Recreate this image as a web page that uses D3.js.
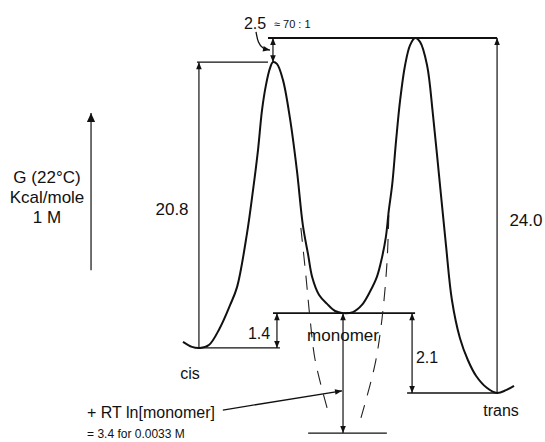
<!DOCTYPE html>
<html>
<head>
<meta charset="utf-8">
<script src="https://cdn.jsdelivr.net/npm/d3@7"></script>
<style>
  html, body { margin: 0; padding: 0; background: #fff; }
  svg { display: block; font-family: "Liberation Sans", Arial, Helvetica, sans-serif; }
  .lbl { fill: #111; }
</style>
</head>
<body>
<div id="chart"></div>
<script>
// free energy profile, cis -> monomer -> trans (schematic units: reaction coord 0..100, G 0..100)
const curveXi = [0, 2.7, 5.1, 7.8, 11.1, 14.2, 16.3, 19.3, 21.1, 22.6, 23.8, 25.0, 26.2, 27.1, 28.3, 30.1,
    32.2, 34.3, 36.1, 37.7, 38.9, 41.0, 43.4, 45.8, 48.2, 51.2, 53.9, 56.3, 58.4, 59.9, 61.1, 62.0, 63.0,
    64.2, 65.4, 66.9, 68.4, 69.9, 71.4, 73.5, 75.3, 77.4, 79.2, 81.0, 83.4, 85.8, 88.3, 91.6, 94.6, 97.3, 99.7];
const curveG = [14.4, 13.0, 12.7, 13.5, 18.3, 24.8, 29.9, 45.1, 57.2, 68.5, 79.7, 86.8, 91.5, 93.2, 92.7, 88.2,
    77.5, 62.8, 47.3, 38.9, 32.7, 27.6, 25.1, 23.1, 22.5, 22.8, 24.8, 28.5, 32.7, 38.0, 43.9, 51.5, 58.6,
    71.3, 82.5, 92.4, 98.0, 100, 98.9, 92.4, 78.3, 58.6, 41.7, 26.2, 15.5, 9.3, 4.8, 1.4, 0, 0.8, 2.0];

// lowered monomer well (dashed walls)
const dashLeftXi = [35.5, 37.0, 38.3, 39.8, 43.4];
const dashLeftG = [46.5, 33.2, 20.6, 9.3, -4.2];
const dashRightXi = [62.0, 61.4, 59.9, 57.8, 53.6];
const dashRightG = [50.1, 36.1, 20.6, 7.9, -7.0];

// energy levels
const levelNames = ['top', 'cisTS', 'monomer', 'cis', 'trans', 'monomerLow'];
const levelG = [100, 93.2, 22.5, 12.7, 0, -11.3];
const levelFrom = [25.6, 4.2, 27.1, 5.1, 67.5, 37.7];
const levelTo = [94.6, 25.6, 69.9, 29.2, 94.6, 61.4];

// dimension arrows: [xi, fromLevel, toLevel, arrows]
const dimXi = [4.8, 94.6, 28.3, 69.0, 27.1, 48.2];
const dimFrom = ['cis', 'trans', 'cis', 'trans', 'cisTS', 'monomerLow'];
const dimTo = ['cisTS', 'top', 'monomer', 'monomer', 'top', 'monomer'];
const dimBoth = [false, false, true, true, true, true];
const dimLabels = ['20.8', '24.0', '1.4', '2.1', '2.5', ''];

const W = 545, H = 442;
const x = d3.scaleLinear().domain([0, 100]).range([183, 515]);
const y = d3.scaleLinear().domain([0, 100]).range([393, 38]);
const gOf = name => levelG[levelNames.indexOf(name)];

const svg = d3.select('#chart').append('svg').attr('width', W).attr('height', H);

const defs = svg.append('defs');
defs.append('marker')
    .attr('id', 'ah')
    .attr('viewBox', '0 -5 10 10')
    .attr('refX', 10).attr('refY', 0)
    .attr('markerUnits', 'userSpaceOnUse')
    .attr('markerWidth', 8).attr('markerHeight', 7)
    .attr('orient', 'auto-start-reverse')
    .append('path').attr('d', 'M0,-4L10,0L0,4Z').attr('fill', '#111');
defs.append('marker')
    .attr('id', 'big')
    .attr('viewBox', '0 -5 10 10')
    .attr('refX', 10).attr('refY', 0)
    .attr('markerUnits', 'userSpaceOnUse')
    .attr('markerWidth', 14).attr('markerHeight', 9)
    .attr('orient', 'auto')
    .append('path').attr('d', 'M0,-4.5L10,0L0,4.5Z').attr('fill', '#111');

const line = d3.line().x(d => x(d[0])).y(d => y(d[1]));

// horizontal level lines
svg.append('g').selectAll('line')
    .data(levelNames)
    .join('line')
    .attr('x1', (d, i) => x(levelFrom[i]))
    .attr('x2', (d, i) => x(levelTo[i]))
    .attr('y1', (d, i) => y(levelG[i]))
    .attr('y2', (d, i) => y(levelG[i]))
    .attr('stroke', '#111')
    .attr('stroke-width', (d, i) => (d === 'monomer' || d === 'top' ? 1.8 : 1.4));

// dimension arrows
svg.append('g').selectAll('line')
    .data(dimXi)
    .join('line')
    .attr('x1', d => x(d)).attr('x2', d => x(d))
    .attr('y1', (d, i) => y(gOf(dimFrom[i])) + (dimBoth[i] ? 0 : 0))
    .attr('y2', (d, i) => y(gOf(dimTo[i])))
    .attr('stroke', '#111')
    .attr('stroke-width', 1.2)
    .attr('marker-end', 'url(#ah)')
    .attr('marker-start', (d, i) => (dimBoth[i] ? 'url(#ah)' : null));

// dashed walls
[[dashLeftXi, dashLeftG], [dashRightXi, dashRightG]].forEach(function (s) {
    svg.append('path')
        .attr('d', line.curve(d3.curveCatmullRom)(s[0].map((v, i) => [v, s[1][i]])))
        .attr('fill', 'none')
        .attr('stroke', '#222')
        .attr('stroke-width', 1.1)
        .attr('stroke-dasharray', '14,10');
});

// main profile
svg.append('path')
    .attr('d', line.curve(d3.curveCatmullRom)(curveXi.map((v, i) => [v, curveG[i]])))
    .attr('fill', 'none')
    .attr('stroke', '#111')
    .attr('stroke-width', 2);

// RT ln arrow
const rtXi = [12.0, 47.9];
const rtG = [-4.8, 0.6];
svg.append('line')
    .attr('x1', x(rtXi[0])).attr('y1', y(rtG[0]))
    .attr('x2', x(rtXi[1])).attr('y2', y(rtG[1]))
    .attr('stroke', '#111').attr('stroke-width', 1.3)
    .attr('marker-end', 'url(#ah)');

// curved pointer for 2.5
const hookXi = [22.0, 22.6, 24.0, 26.2];
const hookG = [101.7, 98.6, 97.0, 96.6];
svg.append('path')
    .attr('d', line.curve(d3.curveBasis)(hookXi.map((v, i) => [v, hookG[i]])))
    .attr('fill', 'none').attr('stroke', '#111').attr('stroke-width', 1.3)
    .attr('marker-end', 'url(#ah)');

// G axis arrow
const axisXi = -27.7;
const axisG = [34.6, 78.9];
svg.append('line')
    .attr('x1', x(axisXi)).attr('x2', x(axisXi))
    .attr('y1', y(axisG[0])).attr('y2', y(axisG[1]))
    .attr('stroke', '#111').attr('stroke-width', 1.2)
    .attr('marker-end', 'url(#big)');

function label(txt, px, py, size, anchor) {
    svg.append('text').attr('class', 'lbl')
        .attr('x', px).attr('y', py)
        .attr('text-anchor', anchor || 'middle')
        .attr('dominant-baseline', 'central')
        .attr('font-size', size)
        .text(txt);
}

// value labels
const dimLabelPos = [[-3.3, 51.8], [103.3, 48.7], [22.9, 16.9], [73.5, 10.1], [21.7, 104.2]];
dimLabelPos.forEach((p, i) => label(dimLabels[i], x(p[0]), y(p[1]), i < 2 ? 17 : 16));
label('\u2248 70 : 1', x(27.4), y(103.9), 11, 'start');

label('monomer', x(48.2), y(16.3), 17);
label('cis', x(2.1), y(5.6), 16);
label('trans', x(95.8), y(-4.8), 16);
label('+ RT ln[monomer]', x(-28.9), y(-5.4), 16, 'start');
label('= 3.4 for 0.0033 M', x(-28.9), y(-11.5), 12, 'start');

const axisLabel = ['G (22\u00b0C)', 'Kcal/mole', '1 M'];
axisLabel.forEach((t, i) => label(t, 47, 177 + i * 20, 17));
</script>
</body>
</html>
